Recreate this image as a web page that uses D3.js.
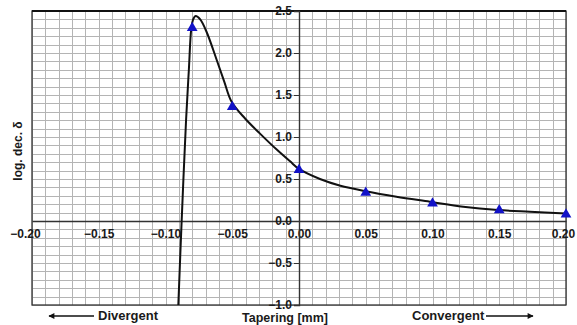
<!DOCTYPE html>
<html>
<head>
<meta charset="utf-8">
<script src="https://cdn.jsdelivr.net/npm/d3@7"></script>
<style>
  body { margin: 0; background: #fff; }
  svg { display: block; font-family: "Liberation Sans", Arial, sans-serif; }
  .lbl { font-weight: bold; fill: #1a1a1a; }
</style>
</head>
<body>
<div id="chart"></div>
<script>
  "use strict";

  // Measured points (blue triangles)
  var pointX = [-0.08, -0.05, 0.00, 0.05, 0.10, 0.15, 0.20];
  var pointY = [2.31, 1.37, 0.62, 0.35, 0.22, 0.14, 0.09];

  // Fitted curve
  var curveX = [-0.0904, -0.0879, -0.0846, -0.0825, -0.0806, -0.0790, -0.0774, -0.0740,
                -0.0692, -0.0617, -0.0560, -0.0505, -0.0404, -0.0292, -0.0167, -0.0067,
                0.000, 0.0157, 0.031, 0.050, 0.073, 0.098, 0.123, 0.149, 0.173, 0.200];
  var curveY = [-1.0, 0.0, 1.2, 1.8, 2.3, 2.41, 2.44, 2.40,
                2.25, 1.92, 1.66, 1.42, 1.22, 1.04, 0.85, 0.71,
                0.62, 0.50, 0.42, 0.355, 0.29, 0.23, 0.17, 0.13, 0.11, 0.09];

  // Tick labels
  var xTicks = [-0.20, -0.15, -0.10, -0.05, 0.00, 0.05, 0.10, 0.15, 0.20];
  var yTicks = [-1.0, -0.5, 0.0, 0.5, 1.0, 1.5, 2.0, 2.5];

  drawChart();

  function drawChart() {
    var W = 577, H = 325;
    var plotLeft = 32, plotRight = 566, plotTop = 11, plotBottom = 305;

    var svg = d3.select('#chart').append('svg')
        .attr('width', W)
        .attr('height', H);

    var x = d3.scaleLinear().domain([-0.20, 0.20]).range([plotLeft, plotRight]);
    var y = d3.scaleLinear().domain([-1.0, 2.5]).range([plotBottom, plotTop]);

    // Graph paper grid: every 0.01 across, every 0.1 up
    var gridX = d3.range(-20, 21).map(function(i) { return i / 100; });
    var gridY = d3.range(-10, 26).map(function(i) { return i / 10; });

    svg.append('g').selectAll('line').data(gridX).enter().append('line')
        .attr('x1', function(d) { return Math.round(x(d)) + 0.5; })
        .attr('x2', function(d) { return Math.round(x(d)) + 0.5; })
        .attr('y1', plotTop).attr('y2', plotBottom)
        .attr('stroke', '#b4b4b4').attr('stroke-width', 1);

    svg.append('g').selectAll('line').data(gridY).enter().append('line')
        .attr('y1', function(d) { return Math.round(y(d)) + 0.5; })
        .attr('y2', function(d) { return Math.round(y(d)) + 0.5; })
        .attr('x1', plotLeft).attr('x2', plotRight)
        .attr('stroke', '#b4b4b4').attr('stroke-width', 1);

    // Plot frame
    svg.append('rect')
        .attr('x', plotLeft).attr('y', plotTop)
        .attr('width', plotRight - plotLeft).attr('height', plotBottom - plotTop)
        .attr('fill', 'none').attr('stroke', '#333').attr('stroke-width', 1.3);
    svg.append('line')
        .attr('x1', plotLeft).attr('x2', plotRight).attr('y1', plotTop).attr('y2', plotTop)
        .attr('stroke', '#111').attr('stroke-width', 2);

    // Axes through the origin
    var xAxis = d3.axisBottom(x).tickValues(xTicks).tickSize(0).tickPadding(8)
        .tickFormat(d3.format('.2f'));
    var gx = svg.append('g').attr('transform', 'translate(0,' + y(0) + ')').call(xAxis);
    gx.select('.domain').attr('stroke', '#333').attr('stroke-width', 1.4);
    gx.selectAll('text').attr('class', 'lbl').attr('font-size', 12)
        .attr('dx', function(d, i) { return i === 0 ? -7 : (i === xTicks.length - 1 ? -3 : 0); });

    var yAxis = d3.axisLeft(y).tickValues(yTicks).tickSize(5).tickPadding(2)
        .tickFormat(d3.format('.1f'));
    var gy = svg.append('g').attr('transform', 'translate(' + x(0) + ',0)').call(yAxis);
    gy.select('.domain').attr('stroke', '#333').attr('stroke-width', 1.4);
    gy.selectAll('.tick line').attr('stroke', '#333');
    gy.selectAll('text').attr('class', 'lbl').attr('font-size', 12);
    svg.selectAll('g').attr('font-family', null);

    // Curve
    var curveData = curveX.map(function(d, i) { return [d, curveY[i]]; });
    svg.append('path')
        .datum(curveData)
        .attr('fill', 'none')
        .attr('stroke', '#111')
        .attr('stroke-width', 2)
        .attr('d', d3.line()
          .x(function(d) { return x(d[0]); })
          .y(function(d) { return y(d[1]); })
          .curve(d3.curveCatmullRom.alpha(0.5)));

    // Triangles
    var tri = d3.symbol().type(d3.symbolTriangle).size(50);
    svg.append('g').selectAll('path').data(pointX).enter().append('path')
        .attr('d', tri)
        .attr('transform', function(d, i) { return 'translate(' + x(d) + ',' + (y(pointY[i]) + 1) + ')'; })
        .attr('fill', '#1212c8');

    // Titles
    svg.append('text')
        .attr('class', 'lbl')
        .attr('font-size', 12)
        .attr('text-anchor', 'middle')
        .attr('transform', 'translate(22,151) rotate(-90)')
        .text('log. dec. δ');

    svg.append('text').attr('class', 'lbl').attr('font-size', 12.5)
        .attr('x', 285).attr('y', 322).attr('text-anchor', 'middle')
        .text('Tapering [mm]');
    svg.append('text').attr('class', 'lbl').attr('font-size', 13)
        .attr('x', 98).attr('y', 320)
        .text('Divergent');
    svg.append('text').attr('class', 'lbl').attr('font-size', 13)
        .attr('x', 412).attr('y', 320)
        .text('Convergent');

    // Direction arrows
    var defs = svg.append('defs');
    defs.append('marker')
        .attr('id', 'head')
        .attr('viewBox', '0 0 10 10')
        .attr('refX', 9).attr('refY', 5)
        .attr('markerWidth', 10).attr('markerHeight', 6)
        .attr('markerUnits', 'userSpaceOnUse')
        .attr('orient', 'auto')
        .append('path').attr('d', 'M0,0 L10,5 L0,10 Z').attr('fill', '#111');

    svg.append('line')
        .attr('x1', 94).attr('y1', 316).attr('x2', 49).attr('y2', 316)
        .attr('stroke', '#111').attr('stroke-width', 1.5)
        .attr('marker-end', 'url(#head)');
    svg.append('line')
        .attr('x1', 486).attr('y1', 316).attr('x2', 533).attr('y2', 316)
        .attr('stroke', '#111').attr('stroke-width', 1.5)
        .attr('marker-end', 'url(#head)');
  }
</script>
</body>
</html>
